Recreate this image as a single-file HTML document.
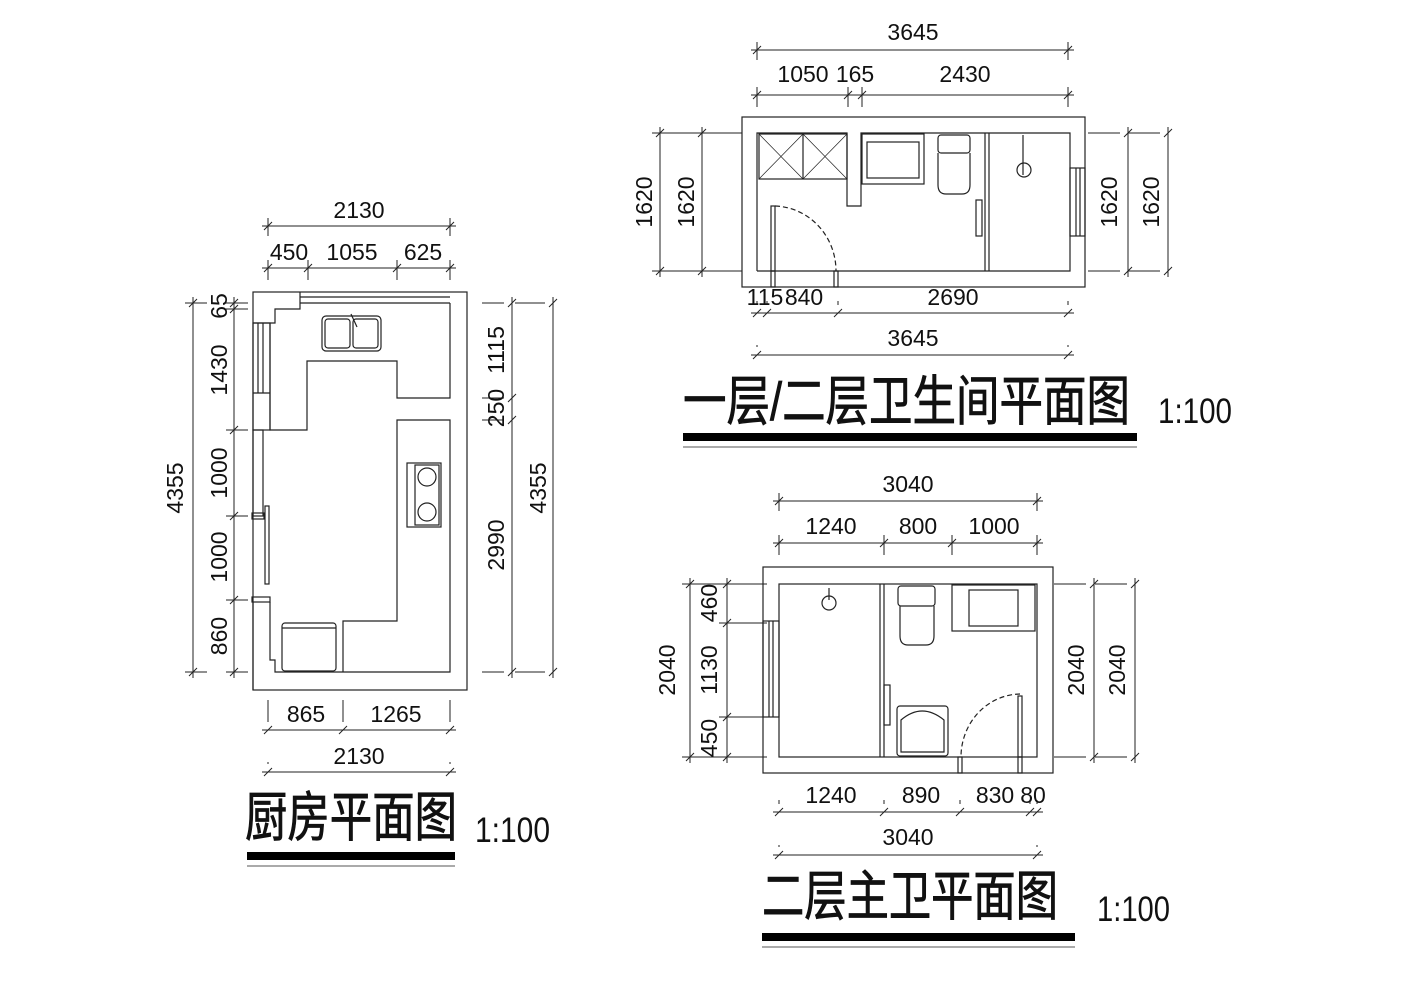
<!DOCTYPE html>
<html><head><meta charset="utf-8"><style>
html,body{margin:0;padding:0;background:#fff}
svg{display:block}
text{font-family:"Liberation Sans","Noto Sans CJK SC",sans-serif;fill:#111}
.tt{stroke:#111;stroke-width:0.8}
</style></head><body>
<svg id="s" width="1413" height="999" viewBox="0 0 1413 999" xmlns="http://www.w3.org/2000/svg">
<g id="g" stroke="#222" stroke-width="1.2" fill="none">
<rect x="253" y="292" width="214" height="398"/>
<polyline points="300,292 300,309 275,309 275,323 253,323"/>
<line x1="300" y1="297" x2="450" y2="297"/><line x1="300" y1="303" x2="450" y2="303"/>
<polyline points="450,303 450,398 397,398 397,361 307,361 307,430 270,430 270,323"/>
<rect x="253" y="323" width="17" height="107"/>
<line x1="258" y1="323" x2="258" y2="393"/><line x1="263" y1="323" x2="263" y2="393"/>
<line x1="253" y1="393" x2="270" y2="393"/>
<rect x="253" y="430" width="10" height="86"/>
<rect x="252" y="513" width="12" height="6"/>
<rect x="265" y="506" width="4" height="78"/>
<rect x="252" y="597" width="18" height="5"/>
<polyline points="270,602 270,660 275,660 275,672 450,672 450,420 397,420 397,621 343,621 343,672"/>
<line x1="253" y1="602" x2="253" y2="690"/>
<rect x="322" y="316" width="59" height="35" rx="4"/>
<rect x="325" y="319" width="25" height="29" rx="3"/><rect x="353" y="319" width="25" height="29" rx="3"/>
<line x1="351" y1="314" x2="357" y2="327"/>
<rect x="407" y="463" width="34" height="64"/><rect x="415" y="465" width="24" height="60"/>
<circle cx="427" cy="477" r="9"/><circle cx="427" cy="512" r="9"/>
<rect x="282" y="623" width="54" height="48" rx="3"/><line x1="282" y1="628" x2="336" y2="628"/>
<rect x="742" y="117" width="343" height="170"/>
<polyline points="757,271 757,133 847,133 847,206 861,206 861,133 1070,133 1070,271 757,271"/>
<rect x="759" y="134" width="88" height="45"/>
<line x1="803" y1="134" x2="803" y2="179"/>
<path d="M759 134 L803 179 M803 134 L759 179 M803 134 L847 179 M847 134 L803 179" stroke-width="0.7"/>
<rect x="862" y="134" width="62" height="50"/><rect x="867" y="142" width="52" height="36"/>
<rect x="938" y="135" width="32" height="18" rx="3"/>
<path d="M938 153 L938 185 Q938 194 946 194 L962 194 Q970 194 970 185 L970 153"/>
<line x1="985" y1="133" x2="985" y2="271"/><line x1="989" y1="133" x2="989" y2="271"/>
<rect x="976" y="200" width="6" height="36"/>
<line x1="1023" y1="135" x2="1023" y2="175"/>
<circle cx="1024" cy="170" r="7"/>
<rect x="1070" y="168" width="15" height="68"/><line x1="1076" y1="168" x2="1076" y2="236"/><line x1="1080" y1="168" x2="1080" y2="236"/>
<rect x="771" y="206" width="4" height="65"/>
<path d="M775 206 A 63 65 0 0 1 836 271" stroke-dasharray="5,3"/>
<rect x="771" y="271" width="4" height="16"/><rect x="834" y="271" width="4" height="16"/>
<rect x="763" y="567" width="290" height="206"/>
<rect x="779" y="584" width="258" height="173"/>
<line x1="880" y1="584" x2="880" y2="757"/><line x1="884" y1="584" x2="884" y2="757"/>
<rect x="884" y="685" width="6" height="40"/>
<rect x="898" y="586" width="37" height="20" rx="3"/>
<path d="M900 606 L900 636 Q900 645 908 645 L926 645 Q934 645 934 636 L934 606"/>
<rect x="952" y="585" width="83" height="46"/><rect x="969" y="590" width="49" height="36"/>
<circle cx="829" cy="603" r="7"/><line x1="829" y1="588" x2="829" y2="600"/>
<rect x="897" y="706" width="51" height="50" rx="3"/><path d="M901 720 Q922 702 944 720 L944 752 L901 752 Z"/>
<rect x="763" y="621" width="16" height="96"/><line x1="769" y1="621" x2="769" y2="717"/><line x1="773" y1="621" x2="773" y2="717"/>
<rect x="1018" y="696" width="4" height="61"/>
<path d="M1020 694 A 60 63 0 0 0 961 757" stroke-dasharray="5,3"/>
<rect x="958" y="757" width="4" height="16"/><rect x="1018" y="757" width="4" height="16"/>
</g>
<g id="d" stroke="#222" stroke-width="1" fill="none"></g>
<g id="t"></g>
<text class="tt" x="245" y="836" font-size="54" textLength="212" lengthAdjust="spacingAndGlyphs">厨房平面图</text>
<rect x="247" y="852" width="208" height="8" fill="#000"/><line x1="247" y1="866" x2="455" y2="866" stroke="#555" stroke-width="1"/>
<text x="475" y="842" font-size="35" textLength="75" lengthAdjust="spacingAndGlyphs">1:100</text>
<text class="tt" x="683" y="420" font-size="54" textLength="447" lengthAdjust="spacingAndGlyphs">一层/二层卫生间平面图</text>
<rect x="683" y="433" width="454" height="8" fill="#000"/><line x1="683" y1="447" x2="1137" y2="447" stroke="#555" stroke-width="1"/>
<text x="1158" y="423" font-size="35" textLength="74" lengthAdjust="spacingAndGlyphs">1:100</text>
<text class="tt" x="762" y="915" font-size="54" textLength="296" lengthAdjust="spacingAndGlyphs">二层主卫平面图</text>
<rect x="762" y="933" width="313" height="8" fill="#000"/><line x1="762" y1="947" x2="1075" y2="947" stroke="#555" stroke-width="1"/>
<text x="1097" y="921" font-size="35" textLength="73" lengthAdjust="spacingAndGlyphs">1:100</text>
</svg>
<script>
var D=document.getElementById('d'),T=document.getElementById('t'),NS='http://www.w3.org/2000/svg';
function L(a,b,c,d){var e=document.createElementNS(NS,'line');e.setAttribute('x1',a);e.setAttribute('y1',b);e.setAttribute('x2',c);e.setAttribute('y2',d);D.appendChild(e);}
function tx(x,y,s,rot){var e=document.createElementNS(NS,'text');e.setAttribute('x',x);e.setAttribute('y',y);e.setAttribute('font-size','23');e.setAttribute('text-anchor','middle');if(rot)e.setAttribute('transform','rotate(-90 '+x+' '+y+')');e.textContent=s;T.appendChild(e);}
function tick(x,y){L(x-4,y+4,x+4,y-4);}
function hd(y,xs,ext,labs,ly){L(xs[0]-6,y,xs[xs.length-1]+6,y);xs.forEach(function(x){tick(x,y);L(x,y-8,x,y+ext);});labs.forEach(function(l){tx(l[0],ly,l[1]);});}
function vd(x,ys,ext,labs,lx){L(x,ys[0]-6,x,ys[ys.length-1]+6);ys.forEach(function(y){tick(x,y);L(x-8,y,x+ext,y);});labs.forEach(function(l){tx(lx,l[0],l[1],1);});}
hd(226,[268,450],10,[[359,'2130']],218);
hd(268,[268,308,397,450],12,[[289,'450'],[352,'1055'],[423,'625']],260);
vd(193,[303,672],14,[[488,'4355']],183);
vd(234,[303,309,430,516,600,672],14,[[306,'65'],[370,'1430'],[473,'1000'],[557,'1000'],[636,'860']],227);
vd(512,[303,398,420,672],-30,[[350,'1115'],[408,'250'],[545,'2990']],504);
vd(553,[303,672],-38,[[488,'4355']],546);
hd(730,[268,343,450],-30,[[306,'865'],[396,'1265']],722);
hd(772,[268,450],-10,[[359,'2130']],764);
hd(50,[757,1068],10,[[913,'3645']],40);
hd(95,[757,848,862,1068],12,[[803,'1050'],[855,'165'],[965,'2430']],82);
vd(660,[133,271],40,[[202,'1620']],652);
vd(702,[133,271],40,[[202,'1620']],694);
vd(1128,[133,271],-40,[[202,'1620']],1117);
vd(1168,[133,271],-40,[[202,'1620']],1159);
hd(313,[757,767,838,1068],-12,[[765,'115'],[804,'840'],[953,'2690']],305);
hd(355,[757,1068],-10,[[913,'3645']],346);
hd(501,[779,1037],10,[[908,'3040']],492);
hd(543,[779,884,952,1037],12,[[831,'1240'],[918,'800'],[994,'1000']],534);
vd(690,[584,757],40,[[670,'2040']],675);
vd(727,[584,623,717,757],40,[[603,'460'],[670,'1130'],[738,'450']],717);
vd(1094,[584,757],-40,[[670,'2040']],1084);
vd(1135,[584,757],-40,[[670,'2040']],1125);
hd(812,[779,884,960,1030,1037],-12,[[831,'1240'],[921,'890'],[995,'830'],[1033,'80']],803);
hd(855,[779,1037],-10,[[908,'3040']],845);
</script>
</body></html>
